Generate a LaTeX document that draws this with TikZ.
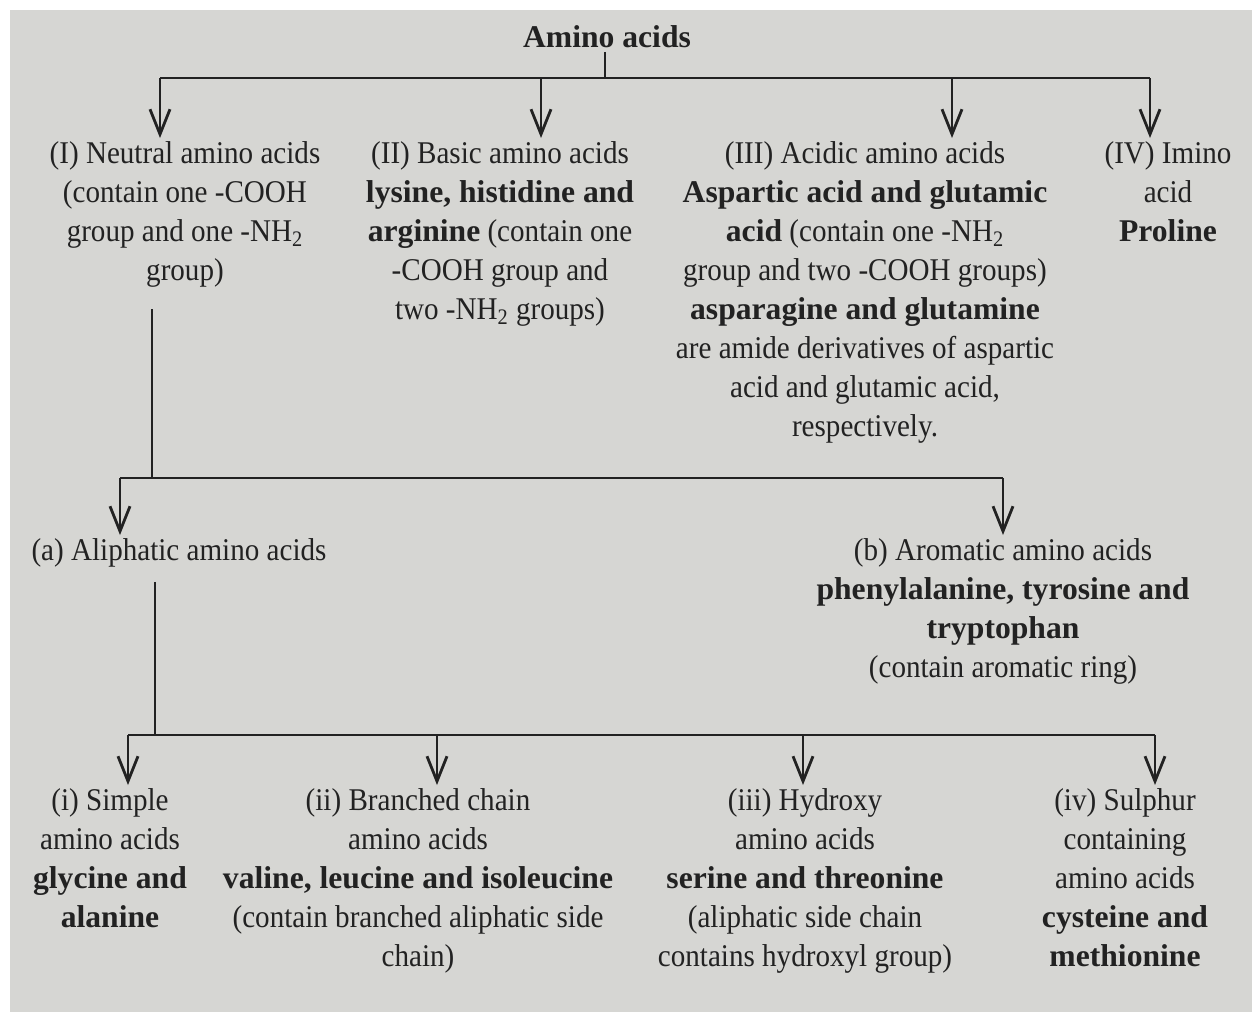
\documentclass[tikz,border=0pt]{standalone}
\usepackage{fontspec}
\setmainfont{Liberation Serif}[UprightFeatures={FakeStretch=0.92}, BoldFeatures={FakeStretch=1.0}]
\usetikzlibrary{arrows.meta}
\definecolor{paper}{RGB}{214,214,211}
\definecolor{ink}{RGB}{34,34,34}
\tikzset{
  branch/.style={draw=ink, line width=1.6pt},
  down/.style={branch, -{Straight Barb[length=5mm,width=4mm]}},
  entry/.style={anchor=north, align=center, text=ink, inner sep=2pt,
    font=\fontsize{18}{22.2}\selectfont},
}
\begin{document}
\begin{tikzpicture}[x=0.02cm, y=-0.02cm]
  \fill[white] (0,0) rectangle (1252,1012);
  \fill[paper] (10,10) rectangle (1252,1012);
  \useasboundingbox (0,0) rectangle (1252,1012);

  % root
  \node[entry, anchor=center] (amino) at (607,37) {\textbf{Amino acids}};

  % first level
  \node[entry] (neutral) at (185,138) {(I) Neutral amino acids\\(contain one -COOH\\group and one -NH\textsubscript{2}\\group)};
  \node[entry] (basic) at (500,138) {(II) Basic amino acids\\\textbf{lysine, histidine and}\\\textbf{arginine} (contain one\\-COOH group and\\two -NH\textsubscript{2} groups)};
  \node[entry] (acidic) at (865,138) {(III) Acidic amino acids\\\textbf{Aspartic acid and glutamic}\\\textbf{acid} (contain one -NH\textsubscript{2}\\group and two -COOH groups)\\\textbf{asparagine and glutamine}\\are amide derivatives of aspartic\\acid and glutamic acid,\\respectively.};
  \node[entry] (imino) at (1168,138) {(IV) Imino\\acid\\\textbf{Proline}};

  \coordinate (top) at (605,78);
  \coordinate (t1) at (160,78);
  \coordinate (t2) at (541,78);
  \coordinate (t3) at (952,78);
  \coordinate (t4) at (1150,78);
  \draw[branch] (top |- amino.south) -- (top);
  \draw[branch] (t1) -- (t4);
  \draw[down] (t1) -- (t1 |- neutral.north);
  \draw[down] (t2) -- (t2 |- basic.north);
  \draw[down] (t3) -- (t3 |- acidic.north);
  \draw[down] (t4) -- (t4 |- imino.north);

  % second level
  \node[entry] (aliph) at (179,535) {(a) Aliphatic amino acids};
  \node[entry] (arom) at (1003,535) {(b) Aromatic amino acids\\\textbf{phenylalanine, tyrosine and}\\\textbf{tryptophan}\\(contain aromatic ring)};

  \coordinate (m0) at (152,478);
  \coordinate (m1) at (120,478);
  \coordinate (m2) at (1003,478);
  \draw[branch, shorten <=10pt] (m0 |- neutral.south) -- (m0);
  \draw[branch] (m1) -- (m2);
  \draw[down] (m1) -- (m1 |- aliph.north);
  \draw[down] (m2) -- (arom.north);

  % third level
  \node[entry] (simple) at (110,785) {(i) Simple\\amino acids\\\textbf{glycine and}\\\textbf{alanine}};
  \node[entry] (branched) at (418,785) {(ii) Branched chain\\amino acids\\\textbf{valine, leucine and isoleucine}\\(contain branched aliphatic side\\chain)};
  \node[entry] (hydroxy) at (805,785) {(iii) Hydroxy\\amino acids\\\textbf{serine and threonine}\\(aliphatic side chain\\contains hydroxyl group)};
  \node[entry] (sulphur) at (1125,785) {(iv) Sulphur\\containing\\amino acids\\\textbf{cysteine and}\\\textbf{methionine}};

  \coordinate (b0) at (155,735);
  \coordinate (b1) at (128,735);
  \coordinate (b2) at (437,735);
  \coordinate (b3) at (803,735);
  \coordinate (b4) at (1155,735);
  \draw[branch, shorten <=6pt] (b0 |- aliph.south) -- (b0);
  \draw[branch] (b1) -- (b4);
  \draw[down] (b1) -- (b1 |- simple.north);
  \draw[down] (b2) -- (b2 |- branched.north);
  \draw[down] (b3) -- (b3 |- hydroxy.north);
  \draw[down] (b4) -- (b4 |- sulphur.north);
\end{tikzpicture}
\end{document}
